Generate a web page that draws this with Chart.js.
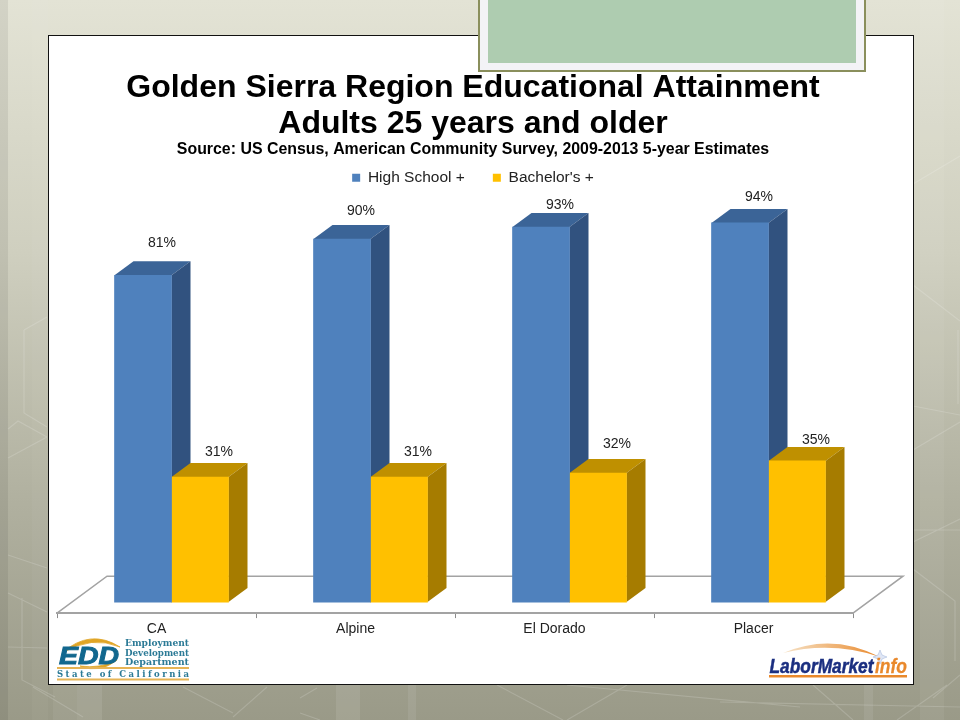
<!DOCTYPE html>
<html>
<head>
<meta charset="utf-8">
<title>Golden Sierra Region Educational Attainment</title>
<script src="https://cdn.jsdelivr.net/npm/chart.js@4"></script>
<style>
html, body { margin: 0; padding: 0; }
body {
    position: relative; width: 960px; height: 720px; overflow: hidden;
    background: linear-gradient(180deg, #e3e3d5 0%, #cfcfbf 35%, #b0b09f 70%, #9a9a88 100%);
    font-family: "Liberation Sans", Arial, sans-serif;
}
#fondo { position: absolute; left: 0; top: 0; }
#caja { position: absolute; left: 48px; top: 35px; width: 864px; height: 648px; background: #fff; border: 1px solid #111; }
#placa { position: absolute; left: 478px; top: -4px; width: 384px; height: 72px; border: 2px solid #8a8f5c; background: #f3f3f6; }
#placa div { position: absolute; left: 8px; top: 0; width: 368px; height: 65px; background: #aeccb0; }
#grafico { position: absolute; left: 0; top: 0; }
.logo { position: absolute; }
</style>
</head>
<body>
<svg id="fondo" width="960" height="720">
    <!-- bandas verticales y lineas tenues del fondo -->
    <rect x="0" y="0" width="8" height="720" fill="#000" opacity="0.07"/>
    <rect x="32" y="0" width="16" height="720" fill="#fff" opacity="0.03"/>
    <rect x="53" y="684" width="24" height="36" fill="#fff" opacity="0.05"/>
    <rect x="77" y="684" width="25" height="36" fill="#fff" opacity="0.09"/>
    <rect x="336" y="684" width="24" height="36" fill="#fff" opacity="0.09"/>
    <rect x="408" y="684" width="8" height="36" fill="#fff" opacity="0.08"/>
    <rect x="864" y="684" width="9" height="36" fill="#fff" opacity="0.08"/>
    <rect x="920" y="0" width="24" height="720" fill="#fff" opacity="0.05"/>
    <g fill="none" stroke="#fff" stroke-opacity="0.16" stroke-width="1.2">
        <path d="M24 330 L47 317 M24 330 L24 413 L47 427 M8 429 L18 421 L47 437 M8 458 L47 437"/>
        <path d="M8 555 L47 568 M8 593 L47 612 M8 647 L47 648 M22 598 L22 680 L55 697"/>
        <path d="M33 687 L83 717 M183 687 L233 713 M233 717 L267 687 M300 713 L320 720 M300 698 L317 688"/>
        <path d="M497 685 L563 720 M567 720 L627 685 M567 685 L800 707 M720 702 L960 707 M813 685 L853 720 M897 720 L947 685"/>
        <path d="M913 184 L960 156 M913 285 L960 321 M958 330 L958 404 M913 406 L960 415 M913 450 L960 422"/>
        <path d="M913 542 L960 519 M913 530 L960 530 M913 569 L955 601 L955 661 M933 698 L960 675"/>
    </g>
</svg>
<div id="caja"></div>
<canvas id="grafico" width="960" height="720"></canvas>
<div id="placa"><div></div></div>

<svg class="logo" style="left:56px;top:636px" width="136" height="46">
    <path d="M6 17 Q34 -8 64 11 Q36 -1 6 17 Z" fill="#e0a526" stroke="#e0a526" stroke-width="0.8"/>
    <path d="M24 30 Q44 38 61 24 Q44 33 24 30 Z" fill="#e0a526" stroke="#e0a526" stroke-width="0.8"/>
    <text x="3" y="28" font-family="Liberation Sans" font-weight="bold" font-style="italic" font-size="24" fill="#12688f" stroke="#12688f" stroke-width="0.9" textLength="60" lengthAdjust="spacingAndGlyphs">EDD</text>
    <g font-family="DejaVu Serif" font-weight="bold" font-size="8.500" fill="#2b7a96">
        <text x="69" y="10" textLength="64" lengthAdjust="spacingAndGlyphs">Employment</text>
        <text x="69" y="19.500" textLength="64" lengthAdjust="spacingAndGlyphs">Development</text>
        <text x="69" y="29" textLength="64" lengthAdjust="spacingAndGlyphs">Department</text>
        <text x="1" y="41" textLength="132">State of California</text>
    </g>
    <rect x="1" y="31" width="132" height="2" fill="#e6b455"/>
    <rect x="1" y="42.500" width="132" height="2" fill="#e6b455"/>
</svg>
<svg class="logo" style="left:766px;top:640px" width="144" height="42">
    <defs>
        <linearGradient id="arco" x1="0" x2="1" y1="0" y2="0">
            <stop offset="0" stop-color="#f6e3c8"/>
            <stop offset="1" stop-color="#e9892c"/>
        </linearGradient>
    </defs>
    <path d="M17 13 Q66 -8 114 17 Q66 1 17 13 Z" fill="url(#arco)"/>
    <path d="M114 10 L116 15 L121 17 L116 19 L114 24 L112 19 L107 17 L112 15 Z" fill="#dfe6f5" stroke="#9fb2d8" stroke-width="0.5"/>
    <text x="3.500" y="33" font-family="Liberation Sans" font-weight="bold" font-style="italic" font-size="21" fill="#1b2f80" stroke="#1b2f80" stroke-width="0.5" textLength="104" lengthAdjust="spacingAndGlyphs">LaborMarket</text>
    <text x="109" y="33" font-family="Liberation Sans" font-weight="bold" font-style="italic" font-size="21" fill="#e9892c" stroke="#e9892c" stroke-width="0.3" textLength="32" lengthAdjust="spacingAndGlyphs">info</text>
    <rect x="3" y="35" width="138" height="2.500" fill="#e9892c"/>
</svg>

<script>
// Datos
const categorias = ['CA', 'Alpine', 'El Dorado', 'Placer'];
const highSchool = [81, 90, 93, 94];
const bachelors = [31, 31, 32, 35];

// Cuanto se separa cada etiqueta de su barra (la original no es uniforme)
const alturaEtiquetasHS = [32, 28, 22, 26];
const alturaEtiquetasBA = [25, 25, 29, 21];

const FONDO = 19;   // desplazamiento 3D de las barras
const ALTO_3D = 14;

const barras3D = {
    id: 'barras3D',
    // las barras van corridas respecto a la marca del eje, como en la perspectiva original
    afterDatasetsUpdate(chart) {
        chart.data.datasets.forEach((ds, i) => {
            chart.getDatasetMeta(i).data.forEach(bar => { bar.x += 15; });
        });
    },
    beforeDatasetsDraw(chart) {
        const ctx = chart.ctx;
        const area = chart.chartArea;

        // piso
        ctx.save();
        ctx.strokeStyle = '#a3a3a3';
        ctx.lineWidth = 1.5;
        ctx.beginPath();
        ctx.moveTo(area.left, area.bottom);
        ctx.lineTo(area.left + 50, area.bottom - 37);
        ctx.lineTo(area.right + 50, area.bottom - 37);
        ctx.lineTo(area.right, area.bottom);
        ctx.stroke();

        chart.data.datasets.forEach((ds, i) => {
            chart.getDatasetMeta(i).data.forEach(bar => {
                const izq = bar.x - bar.width / 2;
                const der = bar.x + bar.width / 2;
                // cara superior
                ctx.fillStyle = ds.colorArriba;
                ctx.beginPath();
                ctx.moveTo(izq, bar.y);
                ctx.lineTo(izq + FONDO, bar.y - ALTO_3D);
                ctx.lineTo(der + FONDO, bar.y - ALTO_3D);
                ctx.lineTo(der, bar.y);
                ctx.fill();
                // cara lateral
                ctx.fillStyle = ds.colorLado;
                ctx.beginPath();
                ctx.moveTo(der, bar.y);
                ctx.lineTo(der + FONDO, bar.y - ALTO_3D);
                ctx.lineTo(der + FONDO, bar.base - ALTO_3D);
                ctx.lineTo(der, bar.base);
                ctx.fill();
            });
        });
        ctx.restore();
    },
    afterDatasetsDraw(chart) {
        const ctx = chart.ctx;
        ctx.save();
        ctx.font = '14px "Liberation Sans"';
        ctx.fillStyle = '#222';
        ctx.textAlign = 'center';
        ctx.textBaseline = 'middle';
        chart.data.datasets.forEach((ds, i) => {
            chart.getDatasetMeta(i).data.forEach((bar, j) => {
                ctx.fillText(ds.data[j] + '%', bar.x + FONDO, bar.y - ds.alturaEtiquetas[j]);
            });
        });
        ctx.restore();
    }
};

new Chart(document.getElementById('grafico'), {
    type: 'bar',
    data: {
        labels: categorias,
        datasets: [
            {
                label: 'High School +',
                data: highSchool,
                backgroundColor: '#4f81bd',
                colorArriba: '#3b6497',
                colorLado: '#31527f',
                alturaEtiquetas: alturaEtiquetasHS
            },
            {
                label: "Bachelor's +",
                data: bachelors,
                backgroundColor: '#ffc000',
                colorArriba: '#bf9000',
                colorLado: '#a67c00',
                alturaEtiquetas: alturaEtiquetasBA
            }
        ]
    },
    options: {
        responsive: false,
        animation: false,
        devicePixelRatio: 1,
        barThickness: 57,
        layout: { padding: { left: 57, right: 71, top: 0, bottom: 79 } },
        plugins: {
            title: {
                display: true,
                text: ['Golden Sierra Region Educational Attainment', 'Adults 25 years and older'],
                color: '#000',
                font: { family: '"Liberation Sans"', size: 32, weight: 'bold', lineHeight: 1.125 },
                padding: { top: 70, bottom: 0 }
            },
            subtitle: {
                display: true,
                text: 'Source: US Census, American Community Survey, 2009-2013 5-year Estimates',
                color: '#000',
                font: { family: '"Liberation Sans"', size: 15.9, weight: 'bold', lineHeight: 1 },
                padding: { top: 0, bottom: -16 }
            },
            legend: {
                position: 'top',
                labels: {
                    boxWidth: 8,
                    boxHeight: 8,
                    padding: 28,
                    color: '#222',
                    font: { family: '"Liberation Sans"', size: 15.5 }
                }
            },
            tooltip: { enabled: false }
        },
        scales: {
            x: {
                grid: { drawOnChartArea: false, color: '#8c8c8c', tickLength: 5, tickColor: '#8c8c8c' },
                border: { color: '#a3a3a3', width: 2 },
                ticks: { color: '#222', font: { family: '"Liberation Sans"', size: 14 }, padding: 3, maxRotation: 0 }
            },
            y: {
                min: -2.75,
                max: 100.8,
                display: false
            },
            // eje derecho vacio: solo reserva el espacio para que el titulo quede centrado como en el original
            derecha: {
                position: 'right',
                afterFit(axis) { axis.width = 36; },
                ticks: { display: false },
                grid: { display: false },
                border: { display: false }
            }
        }
    },
    plugins: [barras3D]
});
</script>
</body>
</html>
